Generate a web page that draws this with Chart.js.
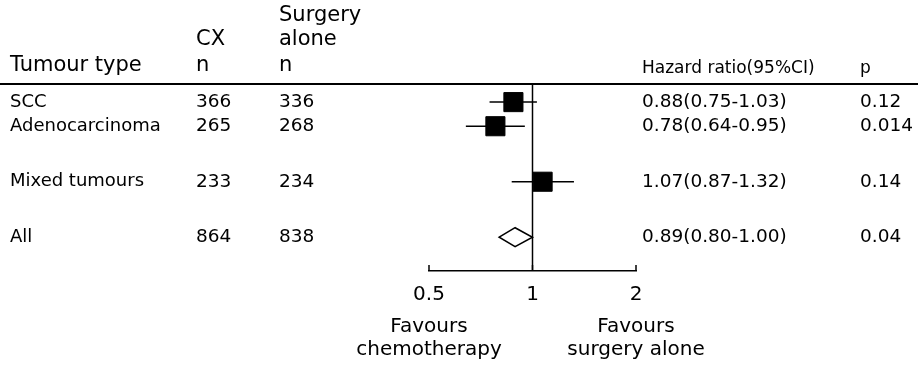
<!DOCTYPE html>
<html>
<head>
<meta charset="utf-8">
<script src="https://cdn.jsdelivr.net/npm/chart.js@4.4.1/dist/chart.umd.min.js"></script>
<style>
  body { margin: 0; background: #fff; }
  #forest { display: block; }
</style>
</head>
<body>
<canvas id="forest" width="918" height="367"></canvas>
<script>
'use strict';
const tumourTypes = ['SCC', 'Adenocarcinoma', 'Mixed tumours', 'All'];
const cxN = [366, 265, 233, 864];
const surgeryN = [336, 268, 234, 838];
const hazardRatios = [0.88, 0.78, 1.07, 0.89];
const lowerCI = [0.75, 0.64, 0.87, 0.80];
const upperCI = [1.03, 0.95, 1.32, 1.00];
const pValues = ['0.12', '0.014', '0.14', '0.04'];
const pooled = [false, false, false, true];
const xTicks = [0.5, 1, 2];

// where each row sits on the hidden y axis
const rowPos = [0.75, 1.75, 4.05, 6.35];

const FONT = '"DejaVu Sans", sans-serif';
const fmt = (v) => v.toFixed(2);

const squares = [];
const ciSets = [];
tumourTypes.forEach((t, i) => {
  if (pooled[i]) return;
  squares.push({x: hazardRatios[i], y: rowPos[i]});
  ciSets.push({
    type: 'line',
    data: [{x: lowerCI[i], y: rowPos[i]}, {x: upperCI[i], y: rowPos[i]}],
    borderColor: '#000',
    borderWidth: 1.5,
    pointRadius: 0,
    showLine: true,
  });
});

const text = (ctx, str, x, y, size, align) => {
  ctx.font = `${size}px ${FONT}`;
  ctx.textAlign = align || 'left';
  ctx.textBaseline = 'middle';
  ctx.fillStyle = '#000';
  ctx.fillText(str, x, y);
};

// table columns, header rule, reference line, diamond etc
const forestPlugin = {
  id: 'forest',
  beforeDatasetsDraw(chart) {
    const {ctx, chartArea, scales} = chart;
    const x1 = scales.x.getPixelForValue(1);
    ctx.save();
    ctx.strokeStyle = '#000';
    ctx.lineWidth = 1.5;
    ctx.beginPath();
    ctx.moveTo(x1, chartArea.top);
    ctx.lineTo(x1, chartArea.bottom);
    ctx.stroke();
    ctx.restore();
  },
  afterDatasetsDraw(chart) {
    const {ctx, chartArea, scales} = chart;
    const xs = scales.x;
    const ys = scales.y;
    ctx.save();

    // header
    text(ctx, 'Surgery', 279, 16, 21);
    text(ctx, 'CX', 196, 40, 21);
    text(ctx, 'alone', 279, 40, 21);
    text(ctx, 'Tumour type', 10, 66, 21);
    text(ctx, 'n', 196, 66, 21);
    text(ctx, 'n', 279, 66, 21);
    text(ctx, 'Hazard ratio(95%CI)', 642, 69, 17);
    text(ctx, 'p', 860, 69, 17);

    ctx.strokeStyle = '#000';
    ctx.lineWidth = 2;
    ctx.beginPath();
    ctx.moveTo(0, chartArea.top);
    ctx.lineTo(918, chartArea.top);
    ctx.stroke();

    tumourTypes.forEach((t, i) => {
      const y = ys.getPixelForValue(rowPos[i]);
      text(ctx, t, 10, y, 18);
      text(ctx, String(cxN[i]), 196, y, 18.5);
      text(ctx, String(surgeryN[i]), 279, y, 18.5);
      text(ctx, `${fmt(hazardRatios[i])}(${fmt(lowerCI[i])}-${fmt(upperCI[i])})`, 642, y, 18.5);
      text(ctx, pValues[i], 860, y, 18.5);

      if (pooled[i]) {
        const xl = xs.getPixelForValue(lowerCI[i]);
        const xm = xs.getPixelForValue(hazardRatios[i]);
        const xr = xs.getPixelForValue(upperCI[i]);
        ctx.beginPath();
        ctx.moveTo(xl, y);
        ctx.lineTo(xm, y - 9.5);
        ctx.lineTo(xr, y);
        ctx.lineTo(xm, y + 9.5);
        ctx.closePath();
        ctx.fillStyle = '#fff';
        ctx.fill();
        ctx.lineWidth = 1.5;
        ctx.stroke();
      }
    });

    // small upward tick marks on the axis
    ctx.lineWidth = 1.5;
    xTicks.forEach((v) => {
      const x = xs.getPixelForValue(v);
      ctx.beginPath();
      ctx.moveTo(x, chartArea.bottom);
      ctx.lineTo(x, chartArea.bottom - 6);
      ctx.stroke();
    });

    const xl = xs.getPixelForValue(xTicks[0]);
    const xr = xs.getPixelForValue(xTicks[xTicks.length - 1]);
    text(ctx, 'Favours', xl, 327, 20, 'center');
    text(ctx, 'chemotherapy', xl, 350, 20, 'center');
    text(ctx, 'Favours', xr, 327, 20, 'center');
    text(ctx, 'surgery alone', xr, 350, 20, 'center');
    ctx.restore();
  },
};

const chart = new Chart(document.getElementById('forest'), {
  type: 'scatter',
  data: {
    datasets: [
      {
        data: squares,
        pointStyle: 'rect',
        pointRadius: 13.5,
        pointHoverRadius: 13.5,
        backgroundColor: '#000',
        borderColor: '#000',
        borderWidth: 1,
      },
      ...ciSets,
    ],
  },
  options: {
    responsive: false,
    animation: false,
    layout: {
      padding: {left: 429, right: 282, top: 84, bottom: 48},
    },
    scales: {
      x: {
        type: 'logarithmic',
        min: 0.5,
        max: 2,
        afterBuildTicks: (scale) => {
          scale.ticks = xTicks.map((v) => ({value: v}));
        },
        grid: {display: false, drawTicks: false},
        border: {display: true, color: '#000', width: 1.5},
        ticks: {
          color: '#000',
          padding: 12,
          maxRotation: 0,
          font: {family: FONT, size: 20},
          callback: (v) => String(v),
        },
      },
      y: {
        display: false,
        reverse: true,
        min: 0,
        max: 7.75,
      },
    },
    plugins: {
      legend: {display: false},
      tooltip: {enabled: false},
    },
  },
  plugins: [forestPlugin],
});
</script>
</body>
</html>
